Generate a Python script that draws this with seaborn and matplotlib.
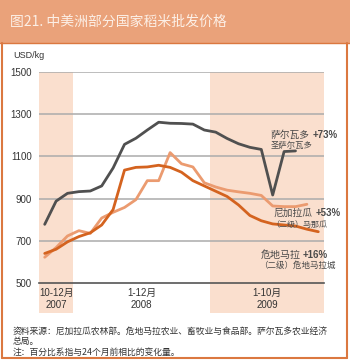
import matplotlib
matplotlib.use("Agg")
import matplotlib.pyplot as plt
import matplotlib.transforms as mtransforms
from matplotlib.patches import Rectangle
import seaborn as sns
import pandas as pd
import numpy as np

# ---- data (USD/kg, monthly Oct 2007 .. Oct 2009) ----
months = list(range(25))
el_salvador = [778, 888, 925, 933, 936, 960, 1045, 1157, 1186, 1225, 1262, 1257,
               1256, 1253, 1225, 1215, 1185, 1160, 1143, 1133, 917, 1123, 1126]
nicaragua = [622, 668, 723, 748, 735, 808, 835, 858, 895, 985, 985, 1118,
             1065, 1050, 975, 955, 940, 932, 925, 915, 865, 862, 862, 873]
guatemala = [640, 660, 695, 720, 738, 775, 848, 1035, 1048, 1050, 1058, 1048,
             1025, 985, 960, 935, 910, 870, 820, 795, 780, 775, 770, 755, 743]
series_names = ["萨尔瓦多", "尼加拉瓜", "危地马拉"]
yticks = [500, 700, 900, 1100, 1300, 1500]
period_labels = ["10-12月", "1-12月", "1-10月"]
year_labels = ["2007", "2008", "2009"]
footer_lines = ["资料来源：尼加拉瓜农林部。危地马拉农业、畜牧业与食品部。萨尔瓦多农业经济",
                "总局。",
                "注：百分比系指与24个月前相比的变化量。"]
title = "图21. 中美洲部分国家稻米批发价格"

rows = []
for name, vals in zip(series_names, [el_salvador, nicaragua, guatemala]):
    for m, v in zip(months, vals):
        rows.append({"month": m, "price": v, "country": name})
df = pd.DataFrame(rows)

sns.set_theme(style="white")
plt.rcParams["font.family"] = ["Liberation Sans", "Noto Sans CJK SC", "DejaVu Sans"]

FONT = ["Liberation Sans", "Noto Sans CJK SC", "DejaVu Sans"]
CJK = ["Noto Sans CJK SC", "DejaVu Sans"]

W, H = 350, 360
fig = plt.figure(figsize=(3.5, 3.6), dpi=100)
fig.patch.set_facecolor("white")

band = "#EAA27A"
border = "#DB7840"
shade = "#FADFCE"
txt = "#4A4A4A"

# title band
fig.patches.append(Rectangle((0, 1 - 43 / H), 1, 43 / H, transform=fig.transFigure,
                             facecolor=band, edgecolor="none", zorder=0))
# border of white panel
fig.add_artist(plt.Line2D([2 / W, 2 / W], [2 / H, 1 - 43 / H], color=border, lw=1.5,
                          transform=fig.transFigure))
fig.add_artist(plt.Line2D([347 / W, 347 / W], [2 / H, 1 - 43 / H], color=border, lw=1.5,
                          transform=fig.transFigure))
fig.add_artist(plt.Line2D([2 / W, 347 / W], [2 / H, 2 / H], color=border, lw=1.5,
                          transform=fig.transFigure))
fig.add_artist(plt.Line2D([0, 1], [1 - 43 / H, 1 - 43 / H], color=border, lw=1.0,
                          transform=fig.transFigure))
fig.text(10 / W, 1 - 22 / H, title, color="#FCEFE6", fontsize=10, family=CJK,
         va="center", ha="left")

# axes
left, right, top, bottom = 39, 324, 72, 283
ax = fig.add_axes([left / W, 1 - bottom / H, (right - left) / W, (bottom - top) / H])
ax.set_facecolor("none")

# shaded periods (extend below axis into label area)
for x0, x1 in [(-0.5, 2.5), (14.5, 24.5)]:
    ax.axvspan(x0, x1, ymin=-0.14, ymax=1, color=shade, clip_on=False, zorder=0, lw=0)

for y in yticks[1:]:
    ax.axhline(y, color="#ABABAB", lw=1.1, zorder=1)

palette = {"萨尔瓦多": "#505050", "尼加拉瓜": "#EB9B70", "危地马拉": "#D4631F"}
sns.lineplot(data=df, x="month", y="price", hue="country", palette=palette,
             hue_order=["尼加拉瓜", "危地马拉", "萨尔瓦多"],
             lw=2.0, ax=ax, legend=False, zorder=3)

ax.set_xlim(-0.5, 24.5)
ax.set_ylim(500, 1500)
ax.set_xlabel("")
ax.set_ylabel("")
ax.set_yticks(yticks)
ax.set_yticklabels([str(v) for v in yticks], fontsize=7, color="#333333")
ax.set_xticks(months)
ax.set_xticklabels([""] * len(months))
ax.tick_params(axis="y", length=0, pad=5)
ax.tick_params(axis="x", direction="in", length=4, width=0.8, color="#555555")
for s in ["top", "right", "left"]:
    ax.spines[s].set_visible(False)
ax.spines["bottom"].set_color("#555555")
ax.spines["bottom"].set_linewidth(1.2)

trans = mtransforms.blended_transform_factory(ax.transData, ax.transAxes)
for xc, p, yr in zip([1, 8.5, 19.5], period_labels, year_labels):
    ax.text(xc, -0.046, p, transform=trans, ha="center", va="center", fontsize=7,
            color="#333333", family=FONT)
    ax.text(xc, -0.104, yr, transform=trans, ha="center", va="center", fontsize=7,
            color="#333333", family=FONT)

fig.text(13 / W, 1 - 55 / H, "USD/kg", fontsize=6.5, color="#333333", va="center",
         family=FONT)

# annotations
ax.text(19.8, 1201, "萨尔瓦多", fontsize=7, color=txt, family=CJK, va="center", ha="left")
ax.text(23.5, 1201, "+73%", fontsize=7, color=txt, family=FONT, weight="bold",
        va="center", ha="left")
ax.text(19.8, 1154, "圣萨尔瓦多", fontsize=6, color=txt, family=CJK, va="center", ha="left")

ax.text(20.1, 833, "尼加拉瓜", fontsize=7, color=txt, family=CJK, va="center", ha="left")
ax.text(23.8, 833, "+53%", fontsize=7, color=txt, family=FONT, weight="bold",
        va="center", ha="left")
ax.text(19.9, 780, "（二级）马那瓜", fontsize=5.8, color=txt, family=CJK, va="center", ha="left")

ax.text(18.97, 633, "危地马拉", fontsize=7.2, color=txt, family=CJK, va="center", ha="left")
ax.text(22.66, 633, "+16%", fontsize=7, color=txt, family=FONT, weight="bold",
        va="center", ha="left")
ax.text(18.8, 582, "（二级）危地马拉城", fontsize=6.1, color=txt, family=CJK, va="center", ha="left")

# footer
for i, ypx in enumerate([331, 341.5, 352]):
    fig.text(13 / W, 1 - ypx / H, footer_lines[i], fontsize=6.35, color="#333333",
             family=CJK, va="center", ha="left")

fig.savefig("out.png", dpi=100)
